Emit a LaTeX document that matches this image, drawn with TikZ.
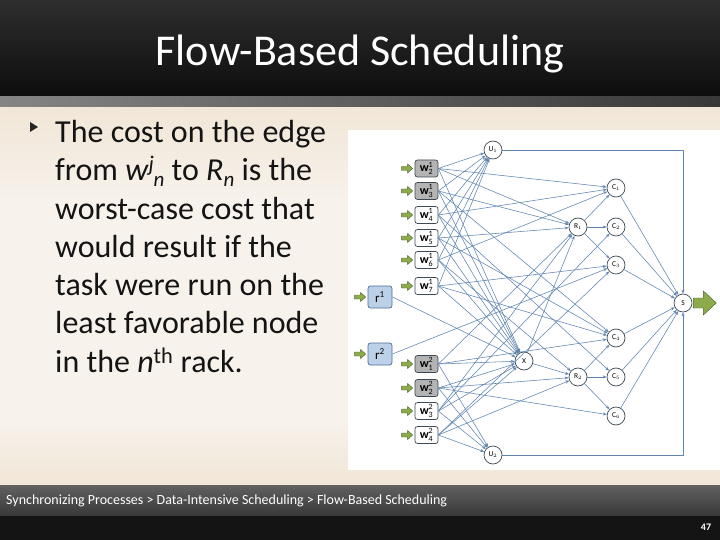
\documentclass[tikz,border=0pt]{standalone}
\usepackage{fontspec}
\setmainfont{Carlito}
\usepackage{amsmath}
\usetikzlibrary{arrows.meta}

\definecolor{edgeblue}{HTML}{5F84B0}
\definecolor{nodeline}{HTML}{3F4A55}
\definecolor{taskgray}{HTML}{B4B4B4}
\definecolor{rootblue}{HTML}{BCD0E8}
\definecolor{rootline}{HTML}{4A6E99}
\definecolor{feedgreen}{HTML}{8DAA4C}
\definecolor{feedline}{HTML}{4E6229}
\definecolor{bodycream}{HTML}{F7F2EB}
\definecolor{bodytan}{HTML}{F1E6D7}

\newcommand{\wlab}[2]{$\text{\bfseries w}^{\text{#1}}_{\text{#2}}$}

\begin{document}
\begin{tikzpicture}[x=1pt,y=-1pt]
    \tikzstyle{task} = [rectangle, rounded corners=2.5pt, draw=nodeline, fill=white, line width=0.7pt, minimum width=23pt, minimum height=17pt, inner sep=0pt, font=\fontsize{12}{12}\selectfont]
    \tikzstyle{done} = [task, fill=taskgray]
    \tikzstyle{root} = [task, fill=rootblue, draw=rootline, minimum width=24pt, minimum height=22pt, font=\fontsize{13}{13}\selectfont]
    \tikzstyle{hub} = [circle, draw=nodeline, fill=white, line width=0.7pt, minimum size=18pt, inner sep=0pt, font=\fontsize{7.5}{7.5}\selectfont]
    \tikzstyle{flow} = [draw=edgeblue, line width=0.55pt, -{Stealth[length=4pt,width=3pt]}]
    \tikzstyle{feed} = [fill=feedgreen, draw=feedline, line width=0.4pt]

    % slide background
    \useasboundingbox (0,0) rectangle (720,540);
    \shade[top color=bodytan, bottom color=bodycream] (0,107) rectangle (720,200);
    \fill[bodycream] (0,200) rectangle (720,420);
    \shade[top color=bodycream, bottom color=bodytan] (0,420) rectangle (720,485);
    \shade[top color=black!82, bottom color=black!95] (0,0) rectangle (720,97);
    \shade[left color=black!48, right color=black!78] (0,97) rectangle (720,107);
    \shade[top color=black!62, bottom color=black!78] (0,485) rectangle (720,516);
    \fill[black!92] (0,516) rectangle (720,540);
    \fill[white] (348,130) rectangle (720,470);

    \node[text=white, font=\fontsize{44}{44}\selectfont, anchor=base] (title) at (360,66) {Flow-Based Scheduling};

    \fill[black!85] (30,122) -- (38,127) -- (30,132) -- cycle;
    \node[anchor=north west, align=left, inner sep=0pt, text=black!92, font=\fontsize{32}{38.3}\selectfont] (point) at (55,120)
        {The cost on the edge\\
         from \textit{w}\textsuperscript{\textit{j}}\kern-1pt\raisebox{-6pt}{\fontsize{21}{21}\selectfont\textit{n}} to \textit{R}\raisebox{-6pt}{\fontsize{21}{21}\selectfont\textit{n}} is the\\
         worst-case cost that\\
         would result if the\\
         task were run on the\\
         least favorable node\\
         in the \textit{n}\textsuperscript{th} rack.};

    \node[text=white, font=\fontsize{14}{14}\selectfont, anchor=base west, inner sep=0pt] (trail) at (6,504)
        {Synchronizing Processes > Data-Intensive Scheduling > Flow-Based Scheduling};
    \node[text=white, font=\bfseries\fontsize{10}{10}\selectfont] (page) at (706,527) {47};

    % flow network
    \node[done] (w12) at (426.5,168.5) {\wlab{1}{2}};
    \node[done] (w13) at (426.5,191) {\wlab{1}{3}};
    \node[task] (w14) at (426.5,215) {\wlab{1}{4}};
    \node[task] (w15) at (426.5,238) {\wlab{1}{5}};
    \node[task] (w16) at (426.5,260) {\wlab{1}{6}};
    \node[task] (w17) at (426.5,286) {\wlab{1}{7}};
    \node[root] (r1) at (380,297) {r$^{\text{1}}$};
    \node[root] (r2) at (380,354) {r$^{\text{2}}$};
    \node[done] (w21) at (426.5,364) {\wlab{2}{1}};
    \node[done] (w22) at (426.5,388) {\wlab{2}{2}};
    \node[task] (w23) at (426.5,411) {\wlab{2}{3}};
    \node[task] (w24) at (426.5,435) {\wlab{2}{4}};

    \node[hub] (U1) at (493,150) {U$_1$};
    \node[hub] (U2) at (493,455) {U$_2$};
    \node[hub] (X) at (524,361) {X};
    \node[hub] (R1) at (578,227) {R$_1$};
    \node[hub] (R2) at (578,377) {R$_2$};
    \node[hub] (C1) at (616,188) {C$_1$};
    \node[hub] (C2) at (616,227) {C$_2$};
    \node[hub] (C3) at (616,265) {C$_3$};
    \node[hub] (C4) at (616,338) {C$_4$};
    \node[hub] (C5) at (616,377) {C$_5$};
    \node[hub] (C6) at (616,416) {C$_6$};
    \node[hub] (S) at (683,303) {S};

    \foreach \t in {w12,w13,w14,w15,w16,w17,r1,r2,w21,w22,w23,w24}
        \draw[feed, shift={(\t.west)}] (-13,-2) -- (-7,-2) -- (-7,-4.5) -- (-2,0) -- (-7,4.5) -- (-7,2) -- (-13,2) -- cycle;
    \draw[feed, shift={(S.east)}] (1,-5) -- (11,-5) -- (11,-12) -- (24,0) -- (11,12) -- (11,5) -- (1,5) -- cycle;

    \foreach \t in {w12,w13,w14,w15,w16,w17} {
        \draw[flow] (\t.east) -- (U1);
        \draw[flow] (\t.east) -- (X);
    }
    \foreach \t in {w21,w22,w23,w24} {
        \draw[flow] (\t.east) -- (U2);
        \draw[flow] (\t.east) -- (X);
    }
    % preferred racks and computers
    \foreach \a/\b in {w12/C1,w12/R1,w13/R1,w13/C4,w14/C1,w14/C5,w15/R1,w15/C4,w16/C1,w16/R2,w17/C3,w17/C4,
                       w21/R1,w21/C4,w22/R2,w22/C6,w23/C2,w23/R1,w24/C3,w24/R2,r1/X,r2/C3}
        \draw[flow] (\a.east) -- (\b);

    \draw[flow] (X) -- (R1);
    \draw[flow] (X) -- (R2);
    \foreach \c in {C1,C2,C3} \draw[flow] (R1) -- (\c);
    \foreach \c in {C4,C5,C6} \draw[flow] (R2) -- (\c);
    \foreach \c in {C1,C2,C3,C4,C5,C6} \draw[flow] (\c) -- (S);
    \draw[flow] (U1) -| (S);
    \draw[flow] (U2) -| (S);
\end{tikzpicture}
\end{document}
